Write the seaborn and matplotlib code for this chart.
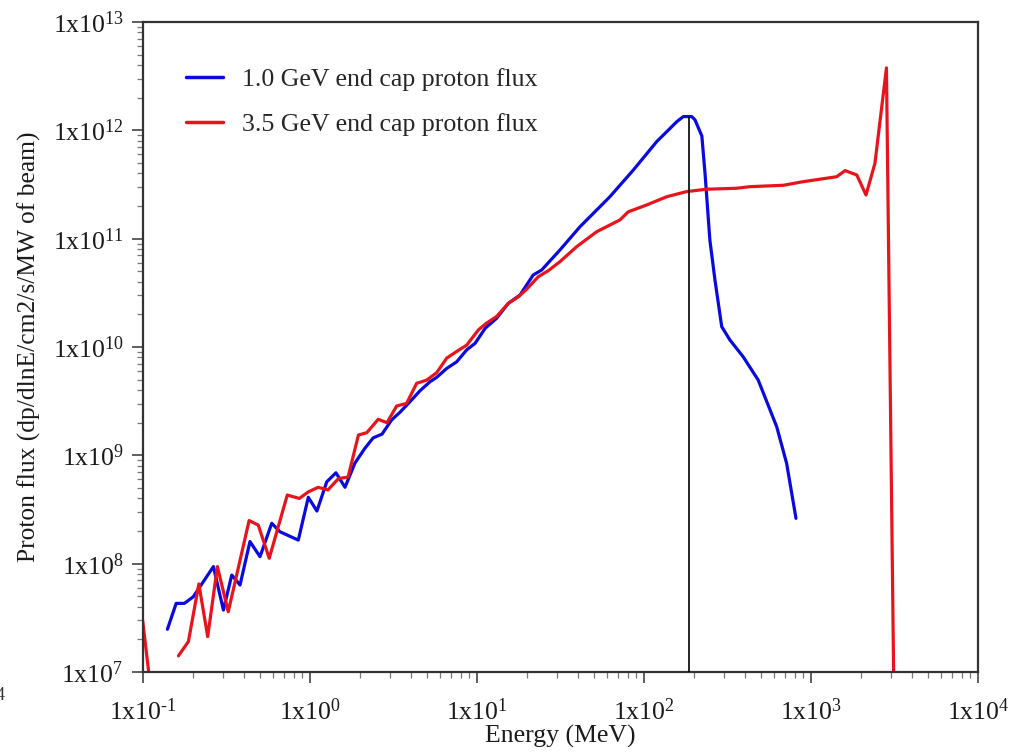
import numpy as np
import pandas as pd
import seaborn as sns
import matplotlib
matplotlib.use("Agg")
import matplotlib.pyplot as plt
from matplotlib.ticker import FuncFormatter, LogLocator, NullFormatter

# Proton flux spectra (dp/dlnE/cm2/s/MW of beam) versus energy (MeV)
energy_1gev = [0.140, 0.158, 0.177, 0.200, 0.264, 0.303, 0.340, 0.381, 0.437, 0.502,
               0.590, 0.661, 0.851, 0.977, 1.10, 1.26, 1.43, 1.62, 1.86, 2.13,
               2.39, 2.70, 3.08, 3.46, 3.97, 4.56, 5.24, 5.74, 6.59, 7.56,
               8.67, 9.73, 11.2, 13.1, 15.4, 18.1, 21.7, 24.4, 31.4, 41.4,
               62.5, 86.3, 119, 157, 172, 193, 202, 222, 232, 248,
               266, 292, 327, 393, 483, 623, 715, 813]
flux_1gev = [2.48e7, 4.3e7, 4.3e7, 4.95e7, 9.4e7, 3.73e7, 7.85e7, 6.35e7, 1.6e8, 1.16e8,
             2.36e8, 1.97e8, 1.65e8, 4.1e8, 3.06e8, 5.7e8, 6.9e8, 5.07e8, 8.5e8, 1.16e9,
             1.45e9, 1.57e9, 2.12e9, 2.5e9, 3.13e9, 3.95e9, 4.79e9, 5.25e9, 6.35e9, 7.3e9,
             9.4e9, 1.08e10, 1.49e10, 1.84e10, 2.53e10, 3.02e10, 4.62e10, 5.14e10, 7.87e10, 1.29e11,
             2.44e11, 4.3e11, 7.85e11, 1.20e12, 1.34e12, 1.34e12, 1.25e12, 8.87e11, 4.0e11, 9.7e10,
             4.16e10, 1.54e10, 1.16e10, 8.1e9, 4.95e9, 1.84e9, 8.4e8, 2.62e8]

# 3.5 GeV spectrum: a short piece at the low edge, then the main curve
energy_35gev_low = [0.0995, 0.110]
flux_35gev_low = [3.0e7, 8.0e6]
energy_35gev = [0.163, 0.187, 0.216, 0.244, 0.279, 0.324, 0.432, 0.490, 0.570, 0.731,
                0.863, 0.977, 1.12, 1.28, 1.48, 1.69, 1.95, 2.19, 2.56, 2.89,
                3.30, 3.79, 4.35, 5.0, 5.74, 6.59, 7.56, 8.67, 10.2, 11.4,
                13.1, 15.4, 17.7, 19.8, 23.3, 26.7, 31.4, 39.5, 52.1, 71.8,
                80.5, 104, 137, 180, 237, 359, 431, 683, 899, 1425,
                1600, 1880, 2135, 2415, 2830, 3180]
flux_35gev = [1.41e7, 1.91e7, 6.5e7, 2.12e7, 9.4e7, 3.6e7, 2.5e8, 2.27e8, 1.12e8, 4.3e8,
              4.0e8, 4.6e8, 5.07e8, 4.79e8, 6.1e8, 6.3e8, 1.54e9, 1.62e9, 2.15e9, 2.0e9,
              2.85e9, 3.02e9, 4.62e9, 4.95e9, 5.8e9, 7.9e9, 9.1e9, 1.04e10, 1.44e10, 1.66e10,
              1.91e10, 2.53e10, 2.91e10, 3.41e10, 4.46e10, 5.06e10, 6.14e10, 8.43e10, 1.16e11, 1.49e11,
              1.77e11, 2.05e11, 2.44e11, 2.72e11, 2.86e11, 2.92e11, 3.02e11, 3.11e11, 3.36e11, 3.73e11,
              4.25e11, 3.87e11, 2.53e11, 4.97e11, 3.77e12, 1.0e6]

peak_energy = 185.0
peak_flux = 1.34e12

label_1gev = "1.0 GeV end cap proton flux"
label_35gev = "3.5 GeV end cap proton flux"

df = pd.concat([
    pd.DataFrame({"energy": energy_1gev, "flux": flux_1gev,
                  "series": label_1gev, "segment": 0}),
    pd.DataFrame({"energy": energy_35gev_low, "flux": flux_35gev_low,
                  "series": label_35gev, "segment": 1}),
    pd.DataFrame({"energy": energy_35gev, "flux": flux_35gev,
                  "series": label_35gev, "segment": 2}),
], ignore_index=True)

sns.set_theme(style="ticks")
plt.rcParams["font.family"] = ["Liberation Serif", "DejaVu Serif"]
plt.rcParams["mathtext.fontset"] = "custom"
plt.rcParams["mathtext.rm"] = "Liberation Serif"
plt.rcParams["mathtext.it"] = "Liberation Serif:italic"
plt.rcParams["mathtext.bf"] = "Liberation Serif:bold"

fig = plt.figure(figsize=(10.24, 7.54), dpi=100)
ax = fig.add_axes([143 / 1024, 1 - 672 / 754, 835 / 1024, 650 / 754])

palette = {label_1gev: "#0a0ae0", label_35gev: "#e8141c"}
sns.lineplot(data=df, x="energy", y="flux", hue="series", units="segment",
             estimator=None, sort=False, palette=palette, linewidth=2.3,
             ax=ax, legend=False)

# vertical marker from the 1.0 GeV peak down to the axis
ax.vlines(peak_energy, 1e7, peak_flux, color="black", linewidth=1.2, zorder=3)

ax.set_xscale("log")
ax.set_yscale("log")
ax.set_xlim(1e-1, 1e4)
ax.set_ylim(1e7, 1e13)

def sci_label(v, pos):
    e = int(round(np.log10(v)))
    return r"$\text{1x10}^{\text{%d}}$" % e

ax.xaxis.set_major_locator(LogLocator(base=10, numticks=20))
ax.yaxis.set_major_locator(LogLocator(base=10, numticks=20))
ax.xaxis.set_minor_locator(LogLocator(base=10, subs=np.arange(2, 10), numticks=20))
ax.yaxis.set_minor_locator(LogLocator(base=10, subs=np.arange(2, 10), numticks=20))
ax.xaxis.set_major_formatter(FuncFormatter(sci_label))
ax.yaxis.set_major_formatter(FuncFormatter(sci_label))
ax.xaxis.set_minor_formatter(NullFormatter())
ax.yaxis.set_minor_formatter(NullFormatter())

ax.tick_params(axis="both", which="major", direction="out", length=8, width=1.2,
               color="#444444", labelsize=18.5, labelcolor="#1a1a1a", pad=6)
ax.tick_params(axis="both", which="minor", direction="out", length=4, width=0.9,
               color="#777777")
ax.tick_params(top=False, right=False, which="both")
ax.tick_params(axis="x", which="major", pad=11)

for side in ["left", "right", "top", "bottom"]:
    ax.spines[side].set_visible(True)
    ax.spines[side].set_color("#333333")
    ax.spines[side].set_linewidth(1.6)

ax.set_xlabel("Energy (MeV)", fontsize=18.5, color="#1a1a1a", labelpad=0)
ax.set_ylabel("Proton flux (dp/dlnE/cm2/s/MW of beam)", fontsize=18.4,
              color="#1a1a1a", labelpad=8)

handles = [plt.Line2D([], [], color=palette[label_1gev], linewidth=2.5),
           plt.Line2D([], [], color=palette[label_35gev], linewidth=2.5)]
ax.legend(handles, [label_1gev, label_35gev], loc="upper left",
          bbox_to_anchor=(0.052, 0.93), frameon=False, fontsize=18.6,
          handlelength=1.4, handletextpad=0.75, labelspacing=0.85,
          borderpad=0, borderaxespad=0)

fig.text(-0.004, 1 - 700 / 754, "4", fontsize=13, color="#333333")

fig.savefig("out.png", dpi=100, facecolor="white")
